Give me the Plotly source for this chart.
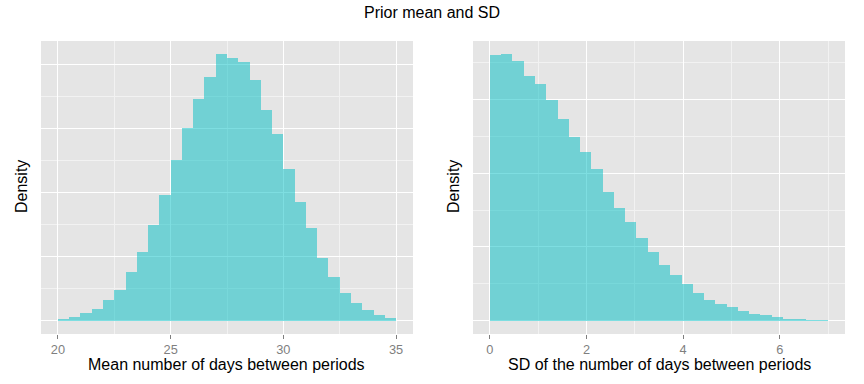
import numpy as np
import plotly.graph_objects as go

# ---- data ----
mean_bin_start = 20.0
mean_bin_width = 0.5
mean_density = [0.0011, 0.0025, 0.0050, 0.0075, 0.0131, 0.0193, 0.0305, 0.0429, 0.0597, 0.0784,
                0.1000, 0.1201, 0.1381, 0.1518, 0.1661, 0.1636, 0.1611, 0.1504, 0.1313, 0.1163,
                0.0944, 0.0738, 0.0579, 0.0392, 0.0272, 0.0174, 0.0112, 0.0068, 0.0037, 0.0019]

sd_bin_start = 0.0
sd_bin_width = 7.0 / 30
sd_density = [0.3600, 0.3614, 0.3519, 0.3316, 0.3207, 0.2991, 0.2733, 0.2493, 0.2286, 0.2056,
              0.1744, 0.1527, 0.1337, 0.1121, 0.0931, 0.0755, 0.0619, 0.0497, 0.0375, 0.0280,
              0.0226, 0.0186, 0.0131, 0.0091, 0.0077, 0.0054, 0.0023, 0.0023, 0.0009, 0.0009]

mean_ticks = [20, 25, 30, 35]
sd_ticks = [0, 2, 4, 6]

title_text = "Prior mean and SD"
mean_xlabel = "Mean number of days between periods"
sd_xlabel = "SD of the number of days between periods"
ylabel = "Density"

# ---- style ----
W, H = 864, 384
FONT = "Liberation Sans, Arial, sans-serif"
PANEL_BG = "#E5E5E5"
FILL = "#00BFC4"
TXT = 16

def px_x(p):
    return p / W

def px_y(p):
    return (H - p) / H

dom_y = [px_y(334), px_y(41)]
dom_x1 = [px_x(41), px_x(413)]
dom_x2 = [px_x(473), px_x(845)]

mean_centers = mean_bin_start + mean_bin_width * (np.arange(len(mean_density)) + 0.5)
sd_centers = sd_bin_start + sd_bin_width * (np.arange(len(sd_density)) + 0.5)

fig = go.Figure()
fig.add_trace(go.Bar(x=mean_centers, y=mean_density, width=mean_bin_width,
                     marker=dict(color=FILL, line=dict(width=0)), opacity=0.5,
                     xaxis="x", yaxis="y", showlegend=False, hoverinfo="x+y"))
fig.add_trace(go.Bar(x=sd_centers, y=sd_density, width=sd_bin_width,
                     marker=dict(color=FILL, line=dict(width=0)), opacity=0.5,
                     xaxis="x2", yaxis="y2", showlegend=False, hoverinfo="x+y"))

def xr(lo, hi):
    d = (hi - lo) * 0.05
    return [lo - d, hi + d]

def yr(vals):
    m = max(vals)
    return [-0.05 * m, 1.05 * m]

mean_lo = mean_bin_start
mean_hi = mean_bin_start + mean_bin_width * len(mean_density)
sd_lo = sd_bin_start
sd_hi = sd_bin_start + sd_bin_width * len(sd_density)

common_x = dict(showgrid=True, gridcolor="white", gridwidth=1.4, zeroline=False,
                showline=False, ticks="outside", ticklen=4, tickwidth=1, tickcolor="#7F7F7F",
                tickfont=dict(family=FONT, size=12.8, color="#7F7F7F"))
common_y = dict(showgrid=True, gridcolor="white", gridwidth=1.4, zeroline=False,
                showline=False, showticklabels=False, ticks="", domain=dom_y)
minor_style = dict(showgrid=True, gridcolor="#F2F2F2", gridwidth=0.8, ticks="")

fig.update_layout(
    width=W, height=H,
    margin=dict(l=0, r=0, t=0, b=0),
    paper_bgcolor="white", plot_bgcolor=PANEL_BG,
    bargap=0, barmode="overlay",
    font=dict(family=FONT, color="black"),
    xaxis=dict(**common_x, anchor="y", domain=dom_x1,
               range=xr(mean_lo, mean_hi), tickmode="array", tickvals=mean_ticks,
               minor=dict(dtick=2.5, tick0=0, **minor_style)),
    yaxis=dict(**common_y, anchor="x", range=yr(mean_density), tick0=0, dtick=0.04,
               minor=dict(dtick=0.02, tick0=0, **minor_style)),
    xaxis2=dict(**common_x, anchor="y2", domain=dom_x2,
                range=xr(sd_lo, sd_hi), tickmode="array", tickvals=sd_ticks,
                minor=dict(dtick=1, tick0=0, **minor_style)),
    yaxis2=dict(**common_y, anchor="x2", range=yr(sd_density), tick0=0, dtick=0.1,
                minor=dict(dtick=0.05, tick0=0, **minor_style)),
    annotations=[
        dict(text=title_text, x=px_x(432), y=px_y(12), xref="paper", yref="paper",
             xanchor="center", yanchor="middle", showarrow=False,
             font=dict(family=FONT, size=TXT, color="black")),
        dict(text=mean_xlabel, x=(dom_x1[0] + dom_x1[1]) / 2, y=px_y(364), xref="paper", yref="paper",
             xanchor="center", yanchor="middle", showarrow=False,
             font=dict(family=FONT, size=TXT, color="black")),
        dict(text=sd_xlabel, x=(dom_x2[0] + dom_x2[1]) / 2, y=px_y(364), xref="paper", yref="paper",
             xanchor="center", yanchor="middle", showarrow=False,
             font=dict(family=FONT, size=TXT, color="black")),
        dict(text=ylabel, x=px_x(21), y=px_y(187), xref="paper", yref="paper", textangle=-90,
             xanchor="center", yanchor="middle", showarrow=False,
             font=dict(family=FONT, size=TXT, color="black")),
        dict(text=ylabel, x=px_x(453), y=px_y(187), xref="paper", yref="paper", textangle=-90,
             xanchor="center", yanchor="middle", showarrow=False,
             font=dict(family=FONT, size=TXT, color="black")),
    ],
)

fig.write_html(
    "out.html",
    config={"displayModeBar": False},
    post_script="document.body.style.margin='0';document.body.style.overflow='hidden';",
)
